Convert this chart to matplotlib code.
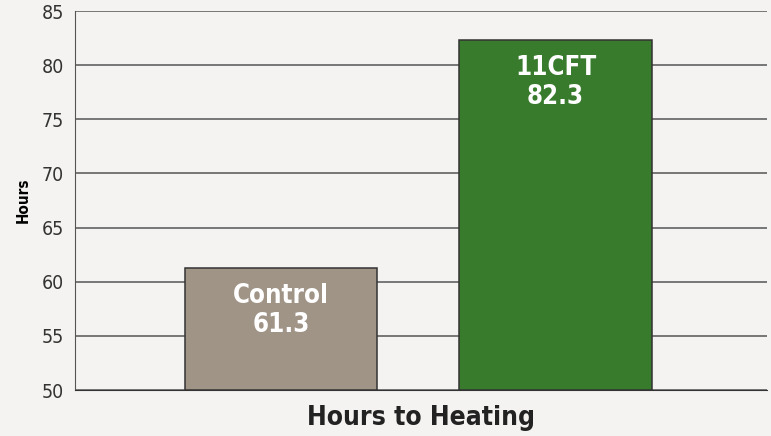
import matplotlib.pyplot as plt
from matplotlib import font_manager

categories = ['Control', '11CFT']
hours = [61.3, 82.3]
bar_colors = ['#a09487', '#387b2d']
yticks = [50, 55, 60, 65, 70, 75, 80, 85]

# look for a narrow font, else fall back to Liberation Sans
narrow = [f for f in font_manager.fontManager.ttflist
          if 'Narrow' in f.name or 'Condensed' in f.name or f.stretch in ('condensed', 'semi-condensed', 500, 'narrow')]
font = narrow[0].name if narrow else 'Liberation Sans'
stretch = narrow[0].stretch if narrow else 'normal'
plt.rcParams['font.family'] = [font, 'DejaVu Sans']
plt.rcParams['font.stretch'] = stretch

bg = '#f4f3f1'
fig = plt.figure(figsize=(7.71, 4.36), dpi=100, facecolor=bg)
ax = fig.add_axes([75 / 771, 1 - 390 / 436, 692 / 771, 379 / 436], facecolor=bg)

ax.set_ylim(50, 85)
ax.set_xlim(-0.75, 1.77)
ax.set_yticks(yticks)
ax.yaxis.grid(True, color='#555555', linewidth=1.1)
ax.set_axisbelow(True)

x = range(len(categories))
ax.bar(x, [h - 50 for h in hours], bottom=50, width=0.7, color=bar_colors,
       edgecolor='#333333', linewidth=1.1, zorder=3)

for i, (c, h) in enumerate(zip(categories, hours)):
    ax.text(i, h - 1.4, f'{c}\n{h}', ha='center', va='top', color='white',
            fontsize=18.5, fontweight='bold', linespacing=1.15, zorder=4)

for s in ['top', 'right']:
    ax.spines[s].set_visible(False)
ax.spines['left'].set_color('#555555')
ax.spines['bottom'].set_color('#333333')
ax.tick_params(axis='y', length=0, labelsize=14, labelcolor='#333333', pad=8)
ax.set_xticks([])
ax.set_ylabel('Hours', fontsize=11, fontweight='bold', labelpad=8)
ax.set_xlabel('Hours to Heating', fontsize=19, fontweight='bold', labelpad=11, color='#222222')

fig.savefig('out.png', dpi=100, facecolor=bg)
